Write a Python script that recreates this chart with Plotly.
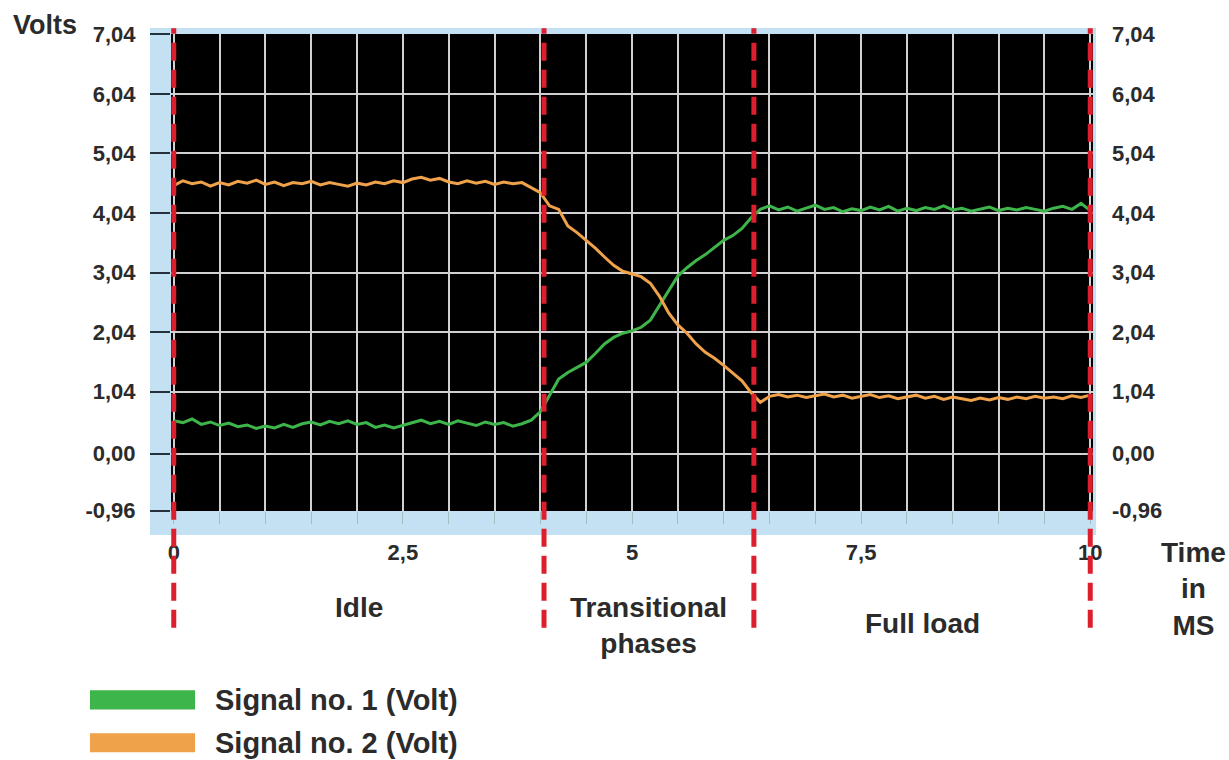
import plotly.graph_objects as go

# ---------------- data ----------------
time_ms = [round(i * 0.1, 1) for i in range(101)]

signal_1 = [
    0.55, 0.52, 0.58, 0.49, 0.53, 0.47, 0.51, 0.45, 0.48, 0.42,
    0.46, 0.43, 0.49, 0.44, 0.50, 0.53, 0.48, 0.54, 0.50, 0.55,
    0.49, 0.52, 0.44, 0.48, 0.43, 0.47, 0.51, 0.56, 0.50, 0.54,
    0.49, 0.55, 0.51, 0.47, 0.53, 0.49, 0.52, 0.46, 0.50, 0.56,
    0.70, 0.98, 1.25, 1.36, 1.44, 1.53, 1.68, 1.84, 1.95, 2.02,
    2.06, 2.12, 2.24, 2.48, 2.72, 2.98, 3.12, 3.24, 3.34, 3.46,
    3.58, 3.66, 3.78, 3.96, 4.10, 4.16, 4.09, 4.14, 4.07, 4.12,
    4.17, 4.10, 4.13, 4.06, 4.11, 4.08, 4.14, 4.09, 4.15, 4.07,
    4.12, 4.08, 4.13, 4.10, 4.16, 4.09, 4.12, 4.07, 4.11, 4.14,
    4.08, 4.12, 4.09, 4.13, 4.10, 4.07, 4.12, 4.15, 4.10, 4.20,
    4.08,
]

signal_2 = [
    4.50, 4.58, 4.53, 4.56, 4.49, 4.55, 4.51, 4.57, 4.54, 4.59,
    4.52, 4.56, 4.50, 4.55, 4.53, 4.57, 4.51, 4.55, 4.52, 4.49,
    4.54, 4.51, 4.56, 4.53, 4.58, 4.55, 4.61, 4.64, 4.59, 4.62,
    4.56, 4.53, 4.58, 4.54, 4.57, 4.52, 4.56, 4.53, 4.55, 4.47,
    4.38, 4.16, 4.10, 3.82, 3.71, 3.58, 3.45, 3.30, 3.16, 3.06,
    3.01, 2.97, 2.86, 2.64, 2.36, 2.16, 2.02, 1.84, 1.70, 1.60,
    1.48, 1.35, 1.22, 1.02, 0.86, 0.96, 0.99, 0.95, 0.98, 0.94,
    0.97, 1.00, 0.95, 0.98, 0.93, 0.96, 0.99, 0.94, 0.97, 0.92,
    0.95, 0.98, 0.93, 0.96, 0.91, 0.95, 0.92, 0.89, 0.93, 0.90,
    0.94, 0.91, 0.95, 0.92, 0.96, 0.93, 0.95, 0.92, 0.97, 0.94,
    0.98,
]

series_names = ["Signal no. 1 (Volt)", "Signal no. 2 (Volt)"]

y_tick_vals = [7.04, 6.04, 5.04, 4.04, 3.04, 2.04, 1.04, 0.00, -0.96]
y_tick_text = ["7,04", "6,04", "5,04", "4,04", "3,04", "2,04", "1,04", "0,00", "-0,96"]

x_tick_vals = [0, 0.5, 1, 1.5, 2, 2.5, 3, 3.5, 4, 4.5, 5,
               5.5, 6, 6.5, 7, 7.5, 8, 8.5, 9, 9.5, 10]
x_tick_text = ["0", "", "", "", "", "2,5", "", "", "", "", "5",
               "", "", "", "", "7,5", "", "", "", "", "10"]

phase_bounds = [0, 4.04, 6.33, 10]
phase_labels = ["Idle", "Transitional<br>phases", "Full load"]

# ---------------- style ----------------
FONT = "Liberation Sans, Arial, Helvetica, sans-serif"
TXT = "#2b2b2b"
GREEN = "#3db54a"
ORANGE = "#f0a24a"
RED = "#dc1e2d"
FRAME = "#c4e1f3"
GRID = "#d0d0d0"

fig = go.Figure()
fig.add_trace(go.Scatter(x=time_ms, y=signal_1, mode="lines", name=series_names[0],
                         line=dict(color=GREEN, width=3), yaxis="y"))
fig.add_trace(go.Scatter(x=time_ms, y=signal_2, mode="lines", name=series_names[1],
                         line=dict(color=ORANGE, width=3), yaxis="y2"))

tickfont = dict(family=FONT, size=22, color=TXT, weight="bold")
yrange = [-0.965, 7.045]

fig.update_layout(
    width=1229, height=760,
    margin=dict(l=171, r=136, t=34, b=249),
    paper_bgcolor="white", plot_bgcolor="black",
    showlegend=False,
    font=dict(family=FONT, color=TXT),
    xaxis=dict(range=[-0.03, 10.03], tickmode="array", tickvals=x_tick_vals, ticktext=x_tick_text,
               ticks="outside", ticklen=12, tickwidth=1, tickcolor="#9fbfc0",
               showgrid=True, gridcolor=GRID, gridwidth=2, zeroline=False, showline=False,
               tickfont=tickfont, ticklabelstandoff=10, fixedrange=True),
    yaxis=dict(range=yrange, tickmode="array", tickvals=y_tick_vals, ticktext=y_tick_text,
               ticks="outside", ticklen=20, tickwidth=2, tickcolor="#25313d",
               showgrid=True, gridcolor=GRID, gridwidth=2, zeroline=False, showline=False,
               tickfont=tickfont, ticklabelstandoff=10, fixedrange=True),
    yaxis2=dict(range=yrange, overlaying="y", side="right", tickmode="array",
                tickvals=y_tick_vals, ticktext=y_tick_text, ticks="",
                showgrid=False, zeroline=False, showline=False,
                tickfont=tickfont, ticklabelstandoff=18, fixedrange=True),
)

shapes = []
# light-blue frame strips around the black plotting area
for x0, x1, y0, y1 in [(-0.0228, 0, -0.0503, 1.0126),
                       (-0.0228, 1.0033, -0.0503, 0),
                       (-0.0228, 1.0033, 1.0, 1.0126),
                       (1.0, 1.0033, -0.0503, 1.0126)]:
    shapes.append(dict(type="rect", xref="paper", yref="paper", x0=x0, x1=x1, y0=y0, y1=y1,
                       fillcolor=FRAME, line=dict(width=0), layer="below"))
# red dashed phase boundaries
for b in phase_bounds:
    shapes.append(dict(type="line", xref="x", yref="paper", x0=b, x1=b, y0=-0.245, y1=1.012,
                       line=dict(color=RED, width=5, dash="18px,9px"), layer="above"))
# legend swatches
legend_colors = [GREEN, ORANGE]
legend_y = [(-0.416, -0.376), (-0.506, -0.466)]
for c, (y0, y1) in zip(legend_colors, legend_y):
    shapes.append(dict(type="rect", xref="paper", yref="paper", x0=-0.0879, x1=0.0261,
                       y0=y0, y1=y1, fillcolor=c, line=dict(width=0)))
fig.update_layout(shapes=shapes)

annotations = []
label_y = [-0.203, -0.239, -0.235]
for i, lab in enumerate(phase_labels):
    annotations.append(dict(x=(phase_bounds[i] + phase_bounds[i + 1]) / 2, y=label_y[i],
                            xref="x", yref="paper", text=lab, showarrow=False,
                            xanchor="center", yanchor="middle",
                            font=dict(family=FONT, size=28, color=TXT, weight="bold")))
annotations.append(dict(x=1.1085, y=-0.1635, xref="paper", yref="paper", text="Time<br>in<br>MS",
                        showarrow=False, xanchor="center", yanchor="middle",
                        font=dict(family=FONT, size=28, color=TXT, weight="bold")))
annotations.append(dict(x=-0.1367, y=1.019, xref="paper", yref="paper", text="Volts",
                        showarrow=False, xanchor="center", yanchor="middle",
                        font=dict(family=FONT, size=27, color=TXT, weight="bold")))
for name, yc in zip(series_names, [-0.397, -0.487]):
    annotations.append(dict(x=0.0456, y=yc, xref="paper", yref="paper", text=name,
                            showarrow=False, xanchor="left", yanchor="middle",
                            font=dict(family=FONT, size=29, color=TXT, weight="bold")))
fig.update_layout(annotations=annotations)

fig.write_html("out.html", config={"displayModeBar": False},
               post_script="document.body.style.margin='0px';document.body.style.overflow='hidden';")
